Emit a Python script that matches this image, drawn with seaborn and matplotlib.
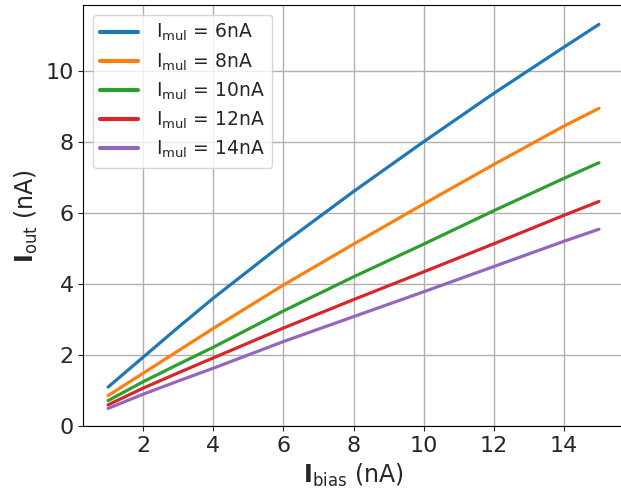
import matplotlib
matplotlib.use("Agg")
import matplotlib.pyplot as plt
import seaborn as sns
import pandas as pd

x_bias = [1, 2, 3, 4, 6, 8, 10, 12, 14, 15]
i_6 = [1.10, 1.94, 2.78, 3.60, 5.14, 6.60, 8.00, 9.36, 10.66, 11.30]
i_8 = [0.86, 1.49, 2.12, 2.75, 3.97, 5.12, 6.25, 7.36, 8.44, 8.94]
i_10 = [0.72, 1.25, 1.74, 2.22, 3.24, 4.20, 5.12, 6.06, 6.97, 7.41]
i_12 = [0.60, 1.07, 1.50, 1.92, 2.76, 3.56, 4.34, 5.13, 5.93, 6.32]
i_14 = [0.50, 0.90, 1.27, 1.63, 2.38, 3.08, 3.78, 4.49, 5.20, 5.54]
labels = [r"$\mathrm{I_{mul}}$ = 6nA", r"$\mathrm{I_{mul}}$ = 8nA",
          r"$\mathrm{I_{mul}}$ = 10nA", r"$\mathrm{I_{mul}}$ = 12nA",
          r"$\mathrm{I_{mul}}$ = 14nA"]
series = [i_6, i_8, i_10, i_12, i_14]

rows = []
for lab, ys in zip(labels, series):
    for xv, yv in zip(x_bias, ys):
        rows.append({"x": xv, "y": yv, "series": lab})
df = pd.DataFrame(rows)

sns.set_style("ticks")
fig = plt.figure(figsize=(6.21, 4.99), dpi=100)
ax = fig.add_axes([83.5/621, 72.8/499, 540/621, 421/499])
sns.lineplot(data=df, x="x", y="y", hue="series", hue_order=labels,
             palette=sns.color_palette("tab10", 5), linewidth=2.3, ax=ax)
ax.set_ylim(0, 11.84)
ax.set_xlim(0.3, 15.7)
ax.set_xticks([2, 4, 6, 8, 10, 12, 14])
ax.set_yticks([0, 2, 4, 6, 8, 10])
ax.grid(True, color="#b0b0b0", linewidth=1)
ax.tick_params(labelsize=16)
ax.set_xlabel(r"$\mathbf{I}_{\mathrm{bias}}$ (nA)", fontsize=17)
ax.set_ylabel(r"$\mathbf{I}_{\mathrm{out}}$ (nA)", fontsize=17)
for s in ["left", "bottom", "top"]:
    ax.spines[s].set_visible(True)
    ax.spines[s].set_color("black")
ax.spines["right"].set_visible(False)
leg = ax.legend(loc="upper left", fontsize=13.5, framealpha=0.8,
                labelspacing=0.42, handletextpad=0.95, borderaxespad=0.5)
for line in leg.get_lines():
    line.set_linewidth(3)
fig.savefig("out.png", dpi=100)
